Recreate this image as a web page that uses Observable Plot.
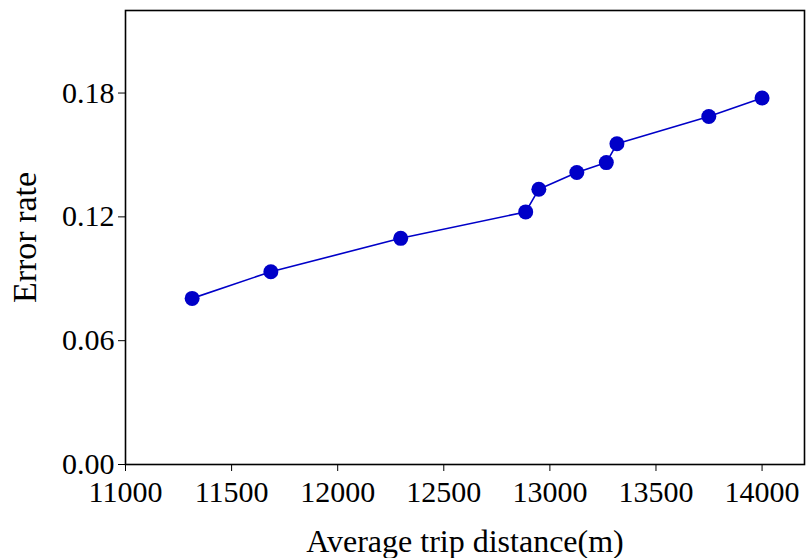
<!DOCTYPE html>
<html>
<head>
<meta charset="utf-8">
<script src="https://cdn.jsdelivr.net/npm/d3@7"></script>
<script src="https://cdn.jsdelivr.net/npm/@observablehq/plot@0.6"></script>
<style>
  html, body { margin: 0; padding: 0; background: #fff; }
  #chart svg [aria-label$="tick label"] { font-size: 30px !important; }
  #chart svg [aria-label="x-axis label"] { font-size: 32px !important; }
  #chart svg [aria-label="y-axis label"] { font-size: 34px !important; }
</style>
</head>
<body>
<div id="chart"></div>
<script>
const distance = [11314, 11685, 12297, 12886, 12948, 13127, 13266, 13316, 13749, 14000];
const errorRate = [0.0805, 0.0934, 0.1096, 0.1224, 0.1334, 0.1415, 0.1463, 0.1554, 0.1686, 0.1776];
const xTicks = [11000, 11500, 12000, 12500, 13000, 13500, 14000];
const yTicks = [0.00, 0.06, 0.12, 0.18];

const data = distance.map((d, i) => ({x: d, y: errorRate[i]}));
const color = "#0000c8";

const chart = Plot.plot({
  width: 806,
  height: 558,
  marginLeft: 125,
  marginRight: 2,
  marginTop: 10,
  marginBottom: 94,
  style: {fontFamily: "'Liberation Serif', 'Times New Roman', serif", fontSize: "30px", color: "#000", background: "#fff", overflow: "visible"},
  x: {domain: [11000, 14200]},
  y: {domain: [0, 0.22]},
  marks: [
    Plot.axisX({ticks: xTicks, tickFormat: d3.format("d"), tickSize: 7, tickPadding: 9, label: "Average trip distance(m)", labelAnchor: "center", labelArrow: "none", labelOffset: 87}),
    Plot.axisY({ticks: yTicks, tickFormat: d3.format(".2f"), tickSize: 7, tickPadding: 4, label: "Error rate", labelAnchor: "center", labelArrow: "none", labelOffset: 114}),
    Plot.line(data, {x: "x", y: "y", stroke: color, strokeWidth: 1.6}),
    Plot.dot(data, {x: "x", y: "y", r: 7.5, fill: color, stroke: "none"}),
    Plot.frame({stroke: "#000", strokeWidth: 1.6})
  ]
});
document.getElementById("chart").appendChild(chart);
</script>
</body>
</html>
